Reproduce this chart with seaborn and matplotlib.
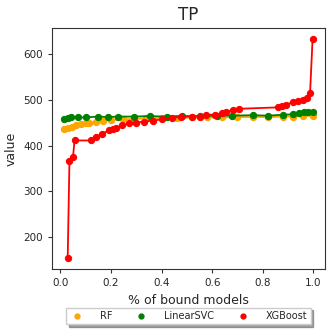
import numpy as np
import pandas as pd
import matplotlib
matplotlib.use("Agg")
import matplotlib.pyplot as plt
import seaborn as sns
from matplotlib.lines import Line2D

models = ["RF", "LinearSVC", "XGBoost"]
colors = ["orange", "green", "red"]

rf_x = [0.016, 0.03, 0.045, 0.062, 0.08, 0.1, 0.115, 0.14, 0.167, 0.2, 0.246, 0.29, 0.34, 0.4, 0.46, 0.52, 0.58, 0.64, 0.7, 0.76, 0.82, 0.88, 0.92, 0.96, 0.997]
rf_y = [435, 438, 441, 445, 447, 449, 450, 452, 454, 455, 457, 458, 459, 460, 460, 461, 461, 461, 462, 462, 462, 463, 463, 464, 465]

svc_x = [0.016, 0.03, 0.042, 0.07, 0.10, 0.147, 0.19, 0.226, 0.29, 0.355, 0.42, 0.48, 0.55, 0.62, 0.68, 0.76, 0.82, 0.88, 0.92, 0.945, 0.964, 0.98, 0.997]
svc_y = [458, 460, 461, 461, 461, 463, 462, 463, 463, 464, 463, 464, 464, 465, 465, 466, 465, 467, 468, 470, 472, 472, 474]

xgb_x = [0.029, 0.036, 0.05, 0.056, 0.121, 0.141, 0.166, 0.194, 0.207, 0.22, 0.245, 0.272, 0.3, 0.33, 0.365, 0.4, 0.44, 0.477, 0.52, 0.55, 0.576, 0.61, 0.64, 0.655, 0.681, 0.708, 0.859, 0.875, 0.892, 0.918, 0.94, 0.958, 0.975, 0.987, 0.997]
xgb_y = [155, 367, 375, 411, 411, 418, 426, 433, 437, 438, 444, 448, 450, 452, 454, 457, 460, 463, 463, 463, 467, 467, 470, 472, 478, 480, 483, 486, 489, 494, 498, 500, 504, 514, 632]

df = pd.concat([
    pd.DataFrame({"x": rf_x, "value": rf_y, "model": "RF"}),
    pd.DataFrame({"x": svc_x, "value": svc_y, "model": "LinearSVC"}),
    pd.DataFrame({"x": xgb_x, "value": xgb_y, "model": "XGBoost"}),
])

sns.set_style("white")
plt.rcParams["font.family"] = ["DejaVu Sans"]

fig = plt.figure(figsize=(3.27, 3.29), dpi=100)
ax = fig.add_axes([52/327, 1-269/329, (325-52)/327, (269-28)/329])

for m, c in zip(models, colors):
    sub = df[df["model"] == m]
    sns.lineplot(data=sub, x="x", y="value", ax=ax, color=c, marker="o",
                 markersize=4.5, markeredgecolor=c, linewidth=1.3,
                 estimator=None, sort=False, legend=False)

ax.set_title("TP", fontsize=12)
ax.set_xlabel("% of bound models", fontsize=9)
ax.set_ylabel("value", fontsize=9)
ax.set_xticks([0.0, 0.2, 0.4, 0.6, 0.8, 1.0])
ax.set_yticks([200, 300, 400, 500, 600])
ax.tick_params(axis="both", labelsize=7.5, length=3, direction="out", left=True, bottom=True, color="#333333")
for s in ax.spines.values():
    s.set_color("#333333")
    s.set_linewidth(0.8)

handles = [Line2D([], [], linestyle="none", marker="o", markersize=3.5, color=c) for c in colors]
leg = ax.legend(handles, models, loc="upper center", bbox_to_anchor=(0.5, -0.14),
                ncol=3, fontsize=7, frameon=True, shadow=True, fancybox=False,
                columnspacing=2.2, handletextpad=1.6, handlelength=1.5, borderpad=0.35)
leg.get_frame().set_edgecolor("#cccccc")

fig.savefig("out.png", dpi=100)
